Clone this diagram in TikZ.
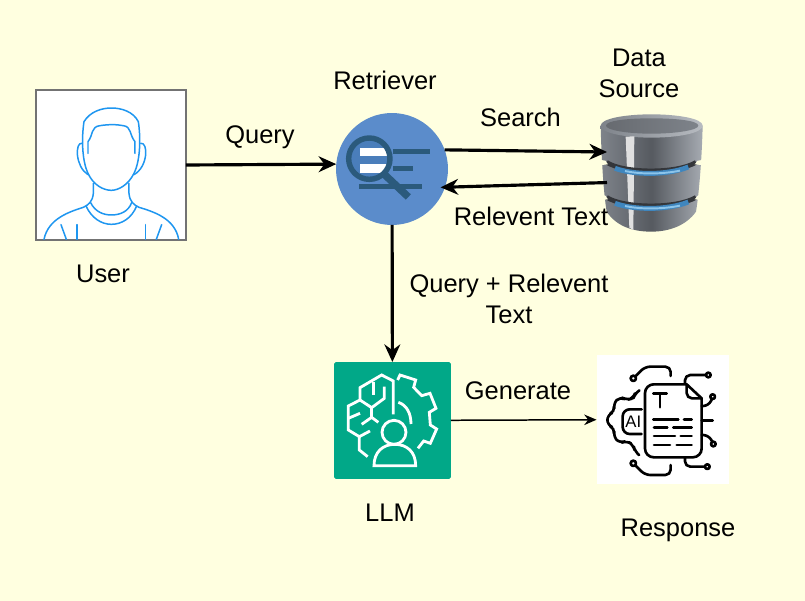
\documentclass[tikz,border=0pt]{standalone}
\usepackage{fontspec}
\setmainfont{Liberation Sans}
\usepackage{tikz}
\usetikzlibrary{arrows.meta}
\definecolor{paper}{HTML}{FFFFE0}
\definecolor{userblue}{HTML}{1E96F0}
\definecolor{retrblue}{HTML}{5B8CCB}
\definecolor{lensblue}{HTML}{4A7EBB}
\definecolor{lensdark}{HTML}{2B5A7C}
\definecolor{llmgreen}{HTML}{01A888}
\definecolor{dbleft}{HTML}{7E838A}
\definecolor{dbmid}{HTML}{565A60}
\definecolor{dbright}{HTML}{A6ABB2}
\definecolor{dbblue}{HTML}{3F86BE}
\definecolor{dbglow}{HTML}{8CC4EA}
\tikzset{
  box/.style={draw=none, rectangle, inner sep=0pt, outer sep=0pt},
  lbl/.style={font=\fontsize{14.5}{17.6}\selectfont, text=black, align=center},
  flow/.style={draw=black, line width=1.8pt, -{Stealth[length=10pt,width=9pt]}},
  thinflow/.style={draw=black, line width=.85pt, -{Stealth[length=7pt,width=6pt]}},
  userline/.style={draw=userblue, line width=.85pt, line join=round, line cap=round},
  llmline/.style={draw=white, line width=1.6pt, line join=miter},
  resline/.style={draw=black, line width=1.5pt, line join=round, line cap=round}
}
\begin{document}
\begin{tikzpicture}[x=.02cm,y=-.02cm]
\fill[paper] (0,0) rectangle (805,601);
\useasboundingbox (0,0) rectangle (805,601);

% the main blocks
\node[box, draw=gray!90!black, line width=.9pt, fill=white, minimum width=3cm, minimum height=3cm] (user) at (111,165){};
\node[box, circle, fill=retrblue, minimum size=2.24cm] (retriever) at (392,169){};
\node[box, minimum width=1.8cm, minimum height=2.36cm] (source) at (652,173){};
\node[box, rounded corners=1pt, fill=llmgreen, minimum width=2.34cm, minimum height=2.34cm] (llm) at (392.5,420.5){};
\node[box, fill=white, minimum width=2.66cm, minimum height=2.58cm] (response) at (663,419.5){};

% user icon
\begin{scope}[shift={(20,80)},x=.00667cm,y=-.00667cm]
\draw[userline] (204,220) -- (204,185) .. controls (220,165) and (212,140) .. (240,137) .. controls (265,133) and (290,133) .. (310,137) .. controls (335,140) and (328,165) .. (345,185) -- (345,220);
\draw[userline] (204,280) .. controls (185,240) and (185,170) .. (192,125) .. controls (210,95) and (245,84) .. (274,84) .. controls (305,84) and (340,95) .. (355,125) .. controls (362,170) and (362,240) .. (342,280) .. controls (325,315) and (295,331) .. (274,331) .. controls (250,331) and (220,315) .. (204,280);
\draw[userline] (186,190) .. controls (165,185) and (165,260) .. (204,284);
\draw[userline] (362,190) .. controls (385,185) and (385,260) .. (342,284);
\draw[userline] (220,310) -- (220,340) .. controls (218,365) and (205,375) .. (190,382) .. controls (150,395) and (85,415) .. (72,478);
\draw[userline] (327,310) -- (327,340) .. controls (329,365) and (342,375) .. (357,382) .. controls (400,395) and (465,415) .. (476,478);
\draw[userline] (212,368) .. controls (225,395) and (250,405) .. (274,405) .. controls (300,405) and (325,395) .. (335,368);
\draw[userline] (198,378) .. controls (215,415) and (245,433) .. (274,433) .. controls (305,433) and (335,415) .. (350,378);
\draw[userline] (123,434) -- (139,478);
\draw[userline] (171,434) -- (171,478);
\draw[userline] (376,434) -- (376,478);
\draw[userline] (425,434) -- (409,478);
\end{scope}

% retriever icon
\begin{scope}[shift={(325,100)},x=.00667cm,y=-.00667cm]
\fill[lensblue] (133,176) circle (62);
\begin{scope}
\clip (133,176) circle (62);
\fill[white] (105,143) rectangle (200,168);
\fill[white] (105,193) rectangle (200,218);
\end{scope}
\draw[lensdark, line width=3.1pt] (133,176) circle (62);
\draw[lensdark, line width=2.7pt] (205,155) -- (315,155);
\draw[lensdark, line width=2.7pt] (205,205) -- (265,205);
\draw[lensdark, line width=2.7pt] (102,259) -- (291,259);
\draw[lensdark, line width=4.2pt] (180,225) -- (250,291);
\end{scope}

% data source icon
\begin{scope}[shift={(590,105)},x=.00667cm,y=-.00667cm]
\shade[left color=dbleft, right color=dbright, middle color=dbmid] (32,62) .. controls (34,150) and (40,260) .. (50,320) .. controls (80,365) and (130,380) .. (184,380) .. controls (240,380) and (290,360) .. (318,320) .. controls (328,260) and (336,150) .. (338,62) -- cycle;
\shade[left color=dbleft, right color=dbright!80!white] (32,62) .. controls (32,40) and (110,28) .. (184,28) .. controls (260,28) and (338,40) .. (338,62) .. controls (338,85) and (260,98) .. (184,98) .. controls (110,98) and (32,85) .. (32,62) -- cycle;
\shade[left color=dbmid!90!white, right color=dbleft] (48,62) .. controls (48,47) and (110,40) .. (184,40) .. controls (260,40) and (325,47) .. (325,62) .. controls (325,75) and (260,86) .. (184,86) .. controls (110,86) and (48,75) .. (48,62) -- cycle;
\fill[white!88!black] (107,95) -- (133,94) -- (130,375) -- (118,368) -- cycle;
\foreach \y in {0,105}{
  \draw[dbmid!60!black, line width=2.6pt] (50,172+\y) .. controls (100,205+\y) and (260,207+\y) .. (318,172+\y);
  \draw[dbblue, line width=2.8pt] (75,190+\y) .. controls (130,210+\y) and (230,212+\y) .. (295,186+\y);
  \draw[dbglow, line width=1.1pt] (105,198+\y) .. controls (150,208+\y) and (215,208+\y) .. (270,197+\y);
  \fill[paper] (33,165+\y) -- (46,167+\y) -- (54,178+\y) -- (36,180+\y) -- cycle;
  \fill[paper] (337,165+\y) -- (323,167+\y) -- (314,178+\y) -- (333,180+\y) -- cycle;
}
\end{scope}

% llm icon
\begin{scope}[shift={(325,355)},x=.00667cm,y=-.00667cm]
\draw[llmline] (218,75) -- (225,60) -- (272,75) -- (266,97) -- (290,122) -- (315,115) -- (333,160) -- (313,172) -- (316,210) -- (335,222) -- (316,265) -- (296,258) -- (279,280);
\draw[llmline] (205,178) -- (205,78) -- (170,60) -- (105,98) -- (105,135) -- (70,153) -- (70,225) -- (103,245) -- (103,285) -- (128,305);
\draw[llmline] (105,135) -- (140,158) -- (178,130) -- (178,95);
\draw[llmline] (145,80) -- (145,120);
\draw[llmline] (70,190) -- (105,175);
\draw[llmline] (110,208) -- (140,187) -- (160,202);
\draw[llmline] (140,158) -- (140,187);
\draw[llmline] (103,245) -- (135,228);
\draw[llmline] (220,142) .. controls (245,150) and (258,175) .. (258,207);
\draw[llmline] (207,232) circle (36);
\draw[llmline] (147,332) .. controls (147,290) and (175,268) .. (209,268) .. controls (245,268) and (272,290) .. (272,332) -- cycle;
\end{scope}

% response icon
\begin{scope}[shift={(590,350)},x=.00667cm,y=-.00667cm]
\draw[resline, rounded corners=5pt] (290,103) -- (165,103) -- (165,322) -- (335,322) -- (335,145);
\draw[resline] (290,103) -- (335,145);
\draw[resline, rounded corners=3pt] (290,103) -- (290,145) -- (335,145);
\draw[resline] (190,130) -- (230,130) (210,130) -- (210,172);
\draw[resline] (190,208) -- (265,208) (282,208) -- (305,208);
\draw[resline] (192,232) -- (232,232) (250,232) -- (305,232);
\draw[resline] (192,258) -- (255,258) (272,258) -- (305,258);
\draw[resline] (192,285) -- (240,285) (260,285) -- (305,285);
\draw[resline, rounded corners=3pt] (147,122) -- (135,130) -- (130,145) -- (110,150) -- (90,140) -- (70,160) -- (75,185) -- (52,195) -- (52,225) -- (75,235) -- (70,260) -- (90,280) -- (110,272) -- (130,285) -- (135,305) -- (147,315);
\draw[resline, rounded corners=4pt] (155,178) -- (98,178) -- (98,252) -- (155,252);
\node[font=\fontsize{9.5}{9.5}\selectfont, text=black] (ailbl) at (130,215){AI};
\draw[resline] (130,85) circle (8);
\draw[resline, rounded corners=3pt] (137,78) -- (165,50) -- (242,50) -- (242,78);
\draw[resline, rounded corners=3pt] (285,100) -- (285,75) -- (347,75);
\draw[resline] (355,75) circle (7);
\draw[resline, rounded corners=3pt] (335,168) -- (355,168) -- (366,147);
\draw[resline] (368,140) circle (7);
\draw[resline] (335,212) -- (368,212);
\draw[resline, rounded corners=3pt] (335,255) -- (355,255) -- (367,275);
\draw[resline] (370,282) circle (7);
\draw[resline, rounded corners=3pt] (285,322) -- (285,350) -- (345,350);
\draw[resline] (352,350) circle (7);
\draw[resline] (130,340) circle (8);
\draw[resline, rounded corners=3pt] (137,347) -- (165,375) -- (242,375) -- (242,345);
\end{scope}

% labels
\node[lbl] (userlbl) at (103,274){User};
\node[lbl] (querylbl) at (260,137.5){Query};
\node[lbl] (retrlbl) at (385,80.5){Retriever};
\node[lbl] (searchlbl) at (520.5,117.5){Search};
\node[lbl] (sourcelbl) at (639,73.5){Data\\Source};
\node[lbl] (textlbl) at (531,216.5){Relevent Text};
\node[lbl] (bothlbl) at (509,298.5){Query + Relevent\\Text};
\node[lbl] (genlbl) at (518,391){Generate};
\node[lbl] (llmlbl) at (390,513){LLM};
\node[lbl] (reslbl) at (678,530.5){Response};

% connectors
\draw[flow] (user.east) -- (retriever.175);
\draw[flow] (retriever.20) -- (source.155);
\draw[flow, shorten >=-2.5pt] (source.192) -- (retriever.-19);
\draw[flow] (retriever) -- (llm);
\draw[thinflow] (llm) -- (response);
\end{tikzpicture}
\end{document}
